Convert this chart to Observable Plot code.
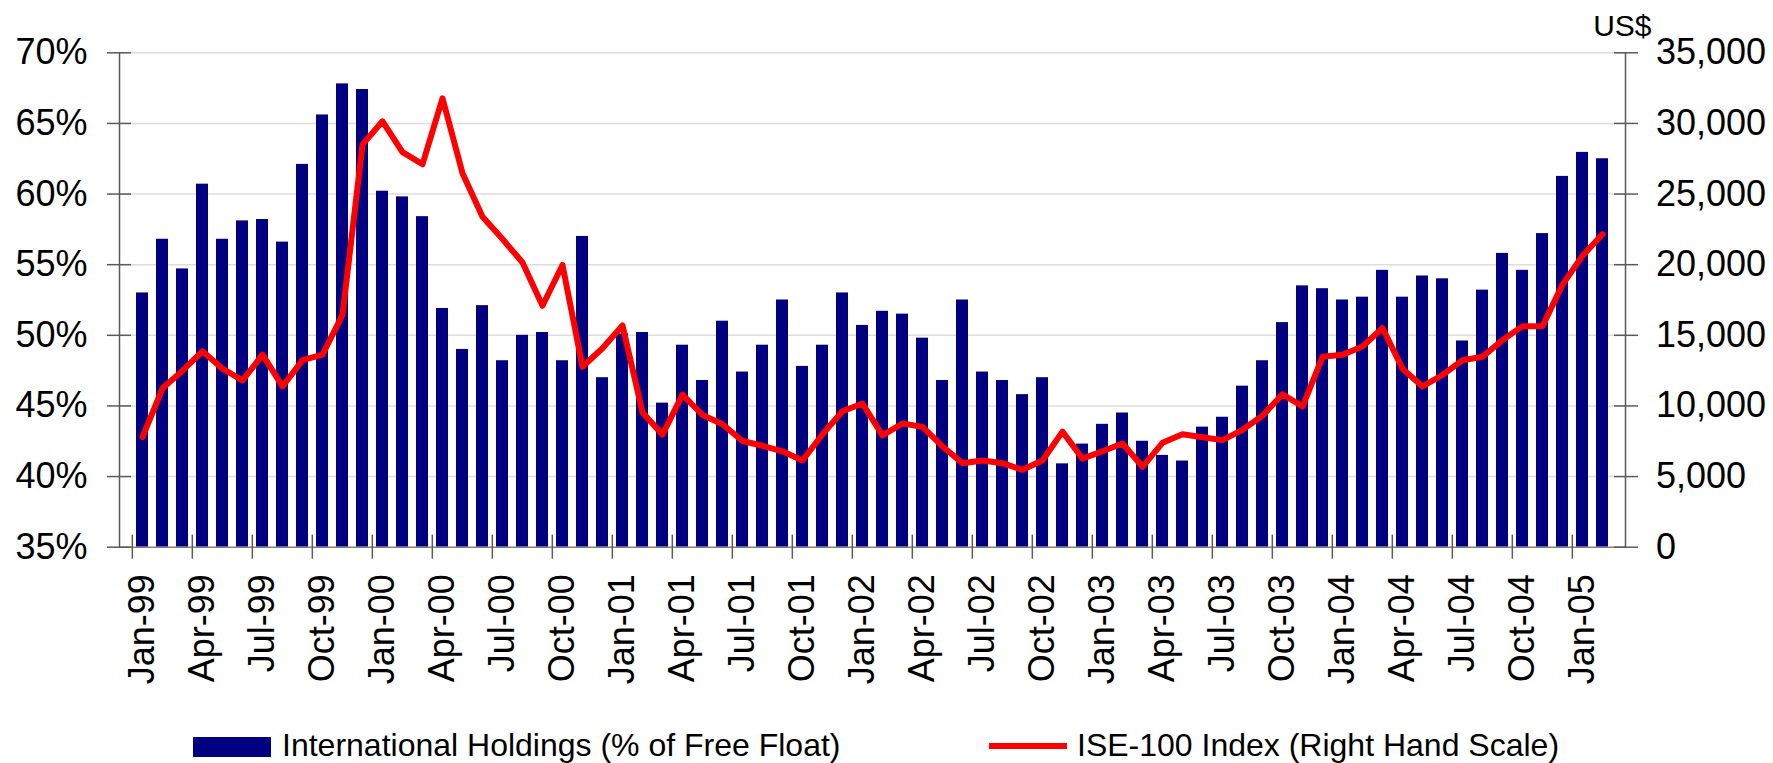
<!DOCTYPE html>
<html>
<head>
<meta charset="utf-8">
<script src="https://cdn.jsdelivr.net/npm/d3@7"></script>
<script src="https://cdn.jsdelivr.net/npm/@observablehq/plot@0.6"></script>
<style>
  html, body { margin: 0; padding: 0; background: #fff; }
  body { font-family: Arial, "Liberation Sans", sans-serif; }
  #wrap { position: relative; width: 1773px; height: 763px; overflow: hidden; background: #fff; }
  #legend { position: absolute; left: 0; top: 720px; width: 1773px; height: 43px; }
  .sw { position: absolute; }
  .lt { position: absolute; top: 8.5px; font-size: 32px; line-height: 32px; white-space: nowrap; color: #000; }
</style>
</head>
<body>
<div id="wrap">
  <div id="chart"></div>
  <div id="legend"></div>
</div>
<script>
// ---- Data ----
const seriesNames = ["International Holdings (% of Free Float)", "ISE-100 Index (Right Hand Scale)"];
const unitLabel = "US$";

// International holdings, % of free float, Jan-99 .. Feb-05
const holdings = [
  53.0, 56.8, 54.7, 60.7, 56.8, 58.1, 58.2, 56.6, 62.1, 65.6, 67.8, 67.4,
  60.2, 59.8, 58.4, 51.9, 49.0, 52.1, 48.2, 50.0, 50.2, 48.2, 57.0, 47.0,
  50.1, 50.2, 45.2, 49.3, 46.8, 51.0, 47.4, 49.3, 52.5, 47.8, 49.3, 53.0,
  50.7, 51.7, 51.5, 49.8, 46.8, 52.5, 47.4, 46.8, 45.8, 47.0, 40.9, 42.3,
  43.7, 44.5, 42.5, 41.5, 41.1, 43.5, 44.2, 46.4, 48.2, 50.9, 53.5, 53.3,
  52.5, 52.7, 54.6, 52.7, 54.2, 54.0, 49.6, 53.2, 55.8, 54.6, 57.2, 61.25,
  62.95, 62.5
];

// ISE-100 index in US$, Jan-99 .. Feb-05
const ise = [
  7800, 11250, 12500, 13870, 12640, 11800, 13630, 11380, 13240, 13630, 16440, 28500,
  30150, 27970, 27110, 31780, 26480, 23390, 21810, 20160, 17090, 19980, 12770, 14080,
  15700, 9540, 7970, 10800, 9360, 8700, 7520, 7180, 6790, 6140, 8000, 9620,
  10170, 7920, 8760, 8520, 7130, 5950, 6140, 5950, 5480, 6140, 8180, 6270,
  6790, 7340, 5690, 7390, 8000, 7790, 7580, 8310, 9310, 10830, 9960, 13480,
  13630, 14210, 15520, 12640, 11380, 12190, 13240, 13480, 14660, 15650, 15650, 18590,
  20630, 22150
];

const xTickLabels = [
  "Jan-99","Apr-99","Jul-99","Oct-99","Jan-00","Apr-00","Jul-00","Oct-00",
  "Jan-01","Apr-01","Jul-01","Oct-01","Jan-02","Apr-02","Jul-02","Oct-02",
  "Jan-03","Apr-03","Jul-03","Oct-03","Jan-04","Apr-04","Jul-04","Oct-04","Jan-05"
];
const leftTicks = [35, 40, 45, 50, 55, 60, 65, 70];
const rightTicks = [0, 5000, 10000, 15000, 20000, 25000, 30000, 35000];

// ---- Build ----
const fmtMonth = d3.utcFormat("%b-%y");
const months = d3.utcMonths(new Date(Date.UTC(1999, 0, 1)), new Date(Date.UTC(2005, 2, 1))).map(fmtMonth);
const data = months.map((m, i) => ({month: m, holdings: holdings[i], ise: ise[i]}));

const yMin = leftTicks[0], yMax = leftTicks[leftTicks.length - 1];
const rightToLeft = d3.scaleLinear([rightTicks[0], rightTicks[rightTicks.length - 1]], [yMin, yMax]);

const W = 1773, H = 720, mL = 119, mR = 148, mT = 52.3, mB = 173.3;
const step = (W - mL - mR) / months.length;
const font = 'Arial, "Liberation Sans", sans-serif';
const axisColor = "#5a5a5a";

const chart = Plot.plot({
  width: W, height: H,
  marginLeft: mL, marginRight: mR, marginTop: mT, marginBottom: mB,
  style: {fontFamily: font, fontSize: "36px", background: "#fff", color: "#000", overflow: "visible"},
  x: {type: "band", domain: months, paddingInner: 0.425, paddingOuter: 0.2125, axis: null, label: null},
  y: {domain: [yMin, yMax], axis: null, label: null},
  marks: [
    Plot.gridY(leftTicks.slice(1), {stroke: "#dcdcdc", strokeOpacity: 1, strokeWidth: 1.5}),
    Plot.barY(data, {x: "month", y1: yMin, y2: "holdings", fill: "#000080"}),
    Plot.line(data, {x: "month", y: d => rightToLeft(d.ise), stroke: "#ff0000", strokeWidth: 6, strokeLinejoin: "round", strokeLinecap: "round"}),
    Plot.ruleY([yMin], {stroke: "#808080", strokeWidth: 1.5}),
    Plot.frame({anchor: "left", stroke: axisColor, strokeWidth: 1.5}),
    Plot.frame({anchor: "right", stroke: axisColor, strokeWidth: 1.5}),
    Plot.axisY({anchor: "left", label: null, ticks: leftTicks, tickSize: 24, dx: 12, tickFormat: () => "", stroke: axisColor, strokeWidth: 1.5}),
    Plot.axisY({anchor: "left", label: null, ticks: leftTicks, tickSize: 0, tickPadding: 32, tickFormat: d => d + "%", fontSize: 36, fill: "#000"}),
    Plot.axisY({anchor: "right", label: null, ticks: rightTicks.map(rightToLeft), tickSize: 24, dx: -12, tickFormat: () => "", stroke: axisColor, strokeWidth: 1.5}),
    Plot.axisY({anchor: "right", label: null, ticks: rightTicks.map(rightToLeft), tickSize: 0, tickPadding: 30.5,
      tickFormat: d => d3.format(",")(Math.round(rightToLeft.invert(d))), fontSize: 36, fill: "#000"}),
    Plot.axisX({label: null, ticks: xTickLabels, tickSize: 24, dx: -step / 2, dy: -12, tickFormat: () => "", stroke: axisColor, strokeWidth: 1.5}),
    Plot.axisX({label: null, ticks: xTickLabels, tickSize: 0, tickPadding: 27, tickRotate: -90, fontSize: 36, fill: "#000"}),
    Plot.text([unitLabel], {frameAnchor: "top-right", text: d => d, dx: 26, dy: -16.8, textAnchor: "end", lineAnchor: "bottom", fontSize: 30, fill: "#000"})
  ]
});
document.getElementById("chart").appendChild(chart);

// ---- Legend ----
const legend = document.getElementById("legend");
legend.innerHTML = `
  <div class="sw" style="left:193px;top:17px;width:78px;height:20px;background:#000080"></div>
  <div class="lt" style="left:282px">${seriesNames[0]}</div>
  <div class="sw" style="left:989px;top:23px;width:78px;height:6px;background:#ff0000"></div>
  <div class="lt" style="left:1077px">${seriesNames[1]}</div>`;
</script>
</body>
</html>
